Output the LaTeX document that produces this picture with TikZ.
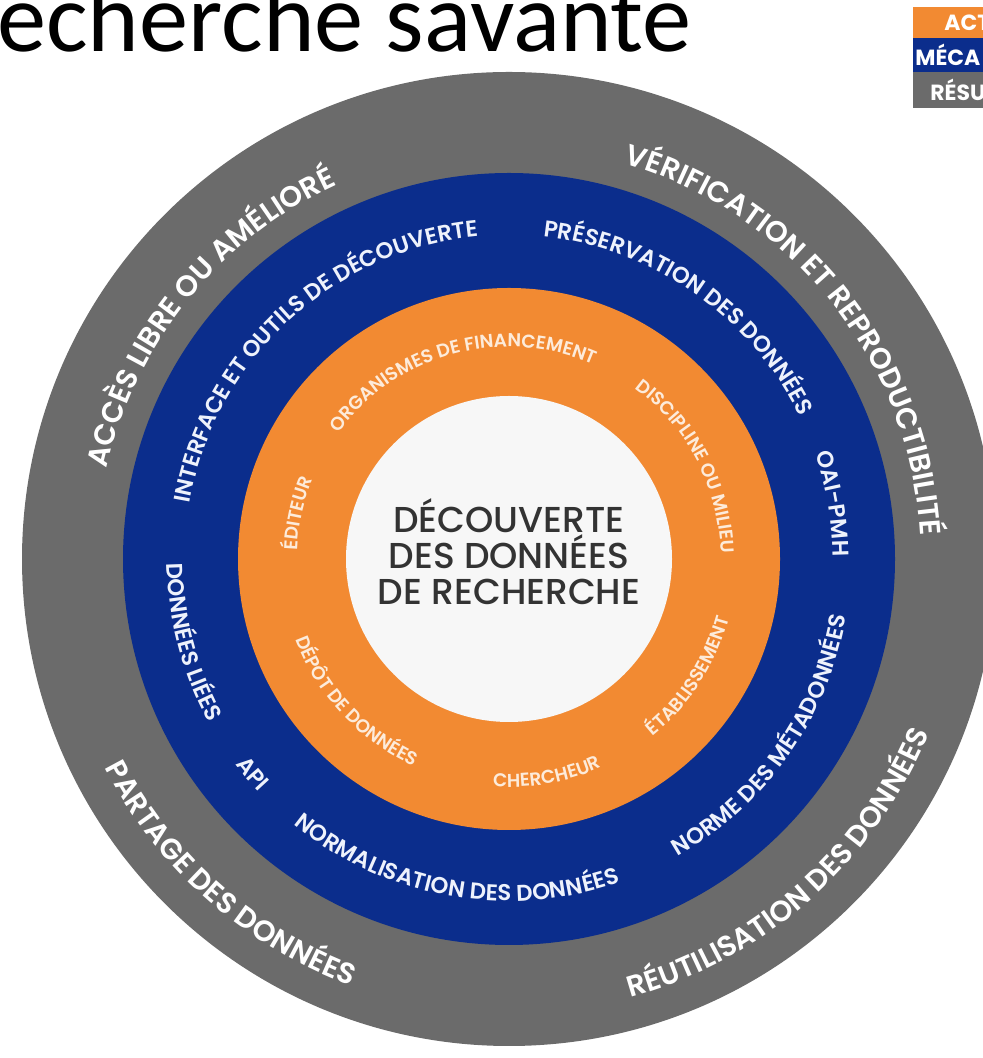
\documentclass[tikz,border=0pt]{standalone}
\usepackage{fontspec}
\setmainfont{Poppins}
\newfontfamily\ringfont{Poppins SemiBold}
\newfontfamily\corefont{Poppins Medium}
\newfontfamily\titlefont{Carlito}
\usetikzlibrary{calc,decorations.text}
\definecolor{ringgray}{HTML}{6B6B6B}
\definecolor{ringblue}{HTML}{0B2D8C}
\definecolor{ringorange}{HTML}{F28A32}
\definecolor{corefill}{HTML}{F7F7F7}
\definecolor{coreink}{HTML}{333333}
\definecolor{paleblue}{HTML}{EEF2FC}
\definecolor{paleorange}{HTML}{FDEBDA}
\newcommand{\grayf}{\ringfont\fontsize{16.6}{20}\selectfont}
\newcommand{\bluef}{\ringfont\fontsize{13}{16}\selectfont}
\newcommand{\orangef}{\ringfont\fontsize{10.6}{13}\selectfont}
\tikzset{
  legtxt/.style={anchor=west, inner sep=0pt, text=white, font=\bfseries\fontsize{12.5}{14}\selectfont},
  core/.style={align=center, text=coreink, inner sep=0pt, font=\corefont\fontsize{20.5}{20.5}\selectfont},
}

\begin{document}
\begin{tikzpicture}[x=0.02cm, y=0.02cm]
  \useasboundingbox (0,0) rectangle (983,1058);
  \clip (0,0) rectangle (983,1058);
  \coordinate (ctr) at (509,499);
  % rings
  \fill[ringgray] (ctr) circle[radius=487];
  \fill[ringblue] (ctr) circle[radius=386];
  \fill[ringorange] (ctr) circle[radius=271];
  \fill[corefill] (ctr) circle[radius=163];
  \node[core] (core) at (509,506) {DÉCOUVERTE\\DES DONNÉES\\DE RECHERCHE};
  % outer ring: results
  \foreach \a/\t in {141/ACCÈS LIBRE OU AMÉLIORÉ, 38.5/VÉRIFICATION ET REPRODUCTIBILITÉ}
    \path[decorate, decoration={text along path, text align=center, text color=white, text/.expanded={|\noexpand\grayf|\t}}]
      ($(ctr)+(\a+80:412)$) arc[start angle=\a+80, end angle=\a-80, radius=412];
  \foreach \a/\t in {228.5/PARTAGE DES DONNÉES, 311.5/RÉUTILISATION DES DONNÉES}
    \path[decorate, decoration={text along path, text align=center, text color=white, text/.expanded={|\noexpand\grayf|\t}}]
      ($(ctr)+(\a-80:455)$) arc[start angle=\a-80, end angle=\a+80, radius=455];
  % middle ring: mechanisms
  \foreach \a/\t in {132.8/INTERFACE ET OUTILS DE DÉCOUVERTE, 55/PRÉSERVATION DES DONNÉES, 9.7/OAI-PMH}
    \path[decorate, decoration={text along path, text align=center, text color=paleblue, text/.expanded={|\noexpand\bluef|\t}}]
      ($(ctr)+(\a+80:324)$) arc[start angle=\a+80, end angle=\a-80, radius=324];
  \foreach \a/\t in {194.7/DONNÉES LIÉES, 220/API, 260/NORMALISATION DES DONNÉES, 325/NORME DES MÉTADONNÉES}
    \path[decorate, decoration={text along path, text align=center, text color=paleblue, text/.expanded={|\noexpand\bluef|\t}}]
      ($(ctr)+(\a-80:342)$) arc[start angle=\a-80, end angle=\a+80, radius=342];
  % inner ring: actors
  \foreach \a/\t in {167.8/ÉDITEUR, 105/ORGANISMES DE FINANCEMENT, 27.5/DISCIPLINE OU MILIEU}
    \path[decorate, decoration={text along path, text align=center, text color=paleorange, text/.expanded={|\noexpand\orangef|\t}}]
      ($(ctr)+(\a+80:212)$) arc[start angle=\a+80, end angle=\a-80, radius=212];
  \foreach \a/\t in {223/DÉPÔT DE DONNÉES, 280/CHERCHEUR, 327/ÉTABLISSEMENT}
    \path[decorate, decoration={text along path, text align=center, text color=paleorange, text/.expanded={|\noexpand\orangef|\t}}]
      ($(ctr)+(\a-80:228)$) arc[start angle=\a-80, end angle=\a+80, radius=228];
  % title and legend
  \node[anchor=base west, inner sep=0pt, font=\titlefont\fontsize{56}{60}\selectfont] (title) at (-3,1006) {echerche savante};
  \fill[ringorange] (913,1051) rectangle (990,1020);
  \fill[ringblue] (913,1020) rectangle (990,986);
  \fill[ringgray] (913,986) rectangle (990,950);
  \node[legtxt] (act) at (944,1035.5) {ACT};
  \node[legtxt] (meca) at (915,1003) {MÉCA};
  \node[legtxt] (resu) at (930,968) {RÉSU};
\end{tikzpicture}
\end{document}
